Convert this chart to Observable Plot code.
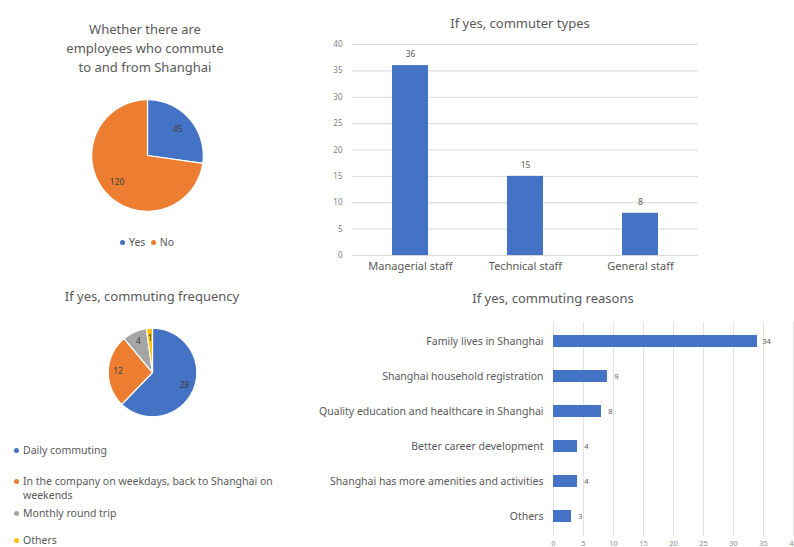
<!DOCTYPE html>
<html><head><meta charset="utf-8">
<script src="https://cdn.jsdelivr.net/npm/d3@7"></script>
<script src="https://cdn.jsdelivr.net/npm/@observablehq/plot@0.6"></script>
<style>
body{margin:0;background:#fff;font-family:"Noto Sans",sans-serif;}
#root{position:relative;width:794px;height:547px;overflow:hidden;color:#595959;background:#fff}
.abs{position:absolute}
.t{font-size:13px;color:#595959;text-align:center;line-height:19px;white-space:nowrap}
.lg{font-size:10.5px;color:#595959;white-space:nowrap;line-height:12px}
.dot{display:inline-block;width:5px;height:5px;border-radius:50%;margin-right:4px;vertical-align:middle;position:relative;top:-1px}
</style></head><body><div id="root"></div>
<script>
const presenceLabels = ["Yes", "No"];
const presenceValues = [45, 120];
const typeLabels = ["Managerial staff", "Technical staff", "General staff"];
const typeValues = [36, 15, 8];
const freqLabels = ["Daily commuting", "In the company on weekdays, back to Shanghai on weekends", "Monthly round trip", "Others"];
const freqValues = [28, 12, 4, 1];
const reasonLabels = ["Family lives in Shanghai", "Shanghai household registration", "Quality education and healthcare in Shanghai", "Better career development", "Shanghai has more amenities and activities", "Others"];
const reasonValues = [34, 9, 8, 4, 4, 3];
const pieColors = ["#4472C4", "#ED7D31", "#A5A5A5", "#FFC000"];
const barColor = "#4472C4";
const FONT = '"Noto Sans", sans-serif';

const root = document.getElementById("root");
function place(el, left, top) { el.classList.add("abs"); el.style.left = left + "px"; el.style.top = top + "px"; root.appendChild(el); return el; }
function div(html, cls, left, top, width) { const d = document.createElement("div"); d.className = cls; d.innerHTML = html; if (width) d.style.width = width + "px"; return place(d, left, top); }

function pie(labels, values, colors, size, labelR) {
  const arcs = d3.pie().sort(null).value(d => d)(values);
  const rows = [];
  const lab = [];
  arcs.forEach((a, i) => {
    rows.push({k: labels[i], x: 0, y: 0});
    const n = Math.max(2, Math.ceil((a.endAngle - a.startAngle) / 0.02));
    for (let j = 0; j <= n; j++) {
      const t = a.startAngle + (a.endAngle - a.startAngle) * j / n;
      rows.push({k: labels[i], x: Math.sin(t), y: Math.cos(t)});
    }
    const m = (a.startAngle + a.endAngle) / 2;
    lab.push({k: labels[i], v: values[i], x: labelR * Math.sin(m), y: labelR * Math.cos(m)});
  });
  const R = 1.04;
  return Plot.plot({
    width: size, height: size, margin: 0,
    style: {fontFamily: FONT, background: "transparent"},
    x: {domain: [-R, R], axis: null},
    y: {domain: [-R, R], axis: null},
    color: {domain: labels, range: colors},
    marks: [
      Plot.line(rows, {x: "x", y: "y", z: "k", fill: "k", stroke: "white", strokeWidth: 1.2, curve: "linear-closed"}),
      Plot.text(lab, {x: "x", y: "y", text: "v", fill: "#404040", fontSize: 8.5})
    ]
  });
}

// Panel A: pie
div("Whether there are<br>employees who commute<br>to and from Shanghai", "t", 45, 20, 200);
place(pie(presenceLabels, presenceValues, pieColors, 116, 0.72), 147 - 58, 155 - 58);
div(presenceLabels.map((l, i) => `<span class="dot" style="background:${pieColors[i]}"></span>${l}`).join("&nbsp;&nbsp;"), "lg", 120, 236);

// Panel B: vertical bars
div("If yes, commuter types", "t", 420, 14, 200);
const typeRows = typeLabels.map((k, i) => ({k, v: typeValues[i]}));
place(Plot.plot({
  width: 410, height: 250, marginLeft: 52, marginRight: 12, marginTop: 14, marginBottom: 25,
  style: {fontFamily: FONT, color: "#595959", background: "transparent"},
  x: {domain: typeLabels, paddingInner: 0.69, paddingOuter: 0.345, label: null, axis: null},
  y: {domain: [0, 40], label: null, axis: null},
  marks: [
    Plot.gridY(d3.range(0, 41, 5), {stroke: "#d9d9d9", strokeOpacity: 1}),
    Plot.axisY(d3.range(0, 41, 5), {tickSize: 0, tickPadding: 10, fontSize: 8, fill: "#7f7f7f", label: null}),
    Plot.axisX({tickSize: 0, tickPadding: 7, fontSize: 11, fill: "#595959", label: null}),
    Plot.barY(typeRows, {x: "k", y: "v", fill: barColor}),
    Plot.text(typeRows, {x: "k", y: "v", text: "v", dy: -11, fontSize: 8.5, fill: "#595959"})
  ]
}), 300, 30);

// Panel C: pie
div("If yes, commuting frequency", "t", 52, 287, 200);
place(pie(freqLabels, freqValues, pieColors, 92, 0.78), 152 - 46, 372 - 46);
const dotHtml = i => `<span class="dot" style="background:${pieColors[i]}"></span>`;
div(dotHtml(0) + freqLabels[0], "lg", 14, 444);
div(dotHtml(1) + "In the company on weekdays, back to Shanghai on", "lg", 14, 475);
div("weekends", "lg", 23, 489);
div(dotHtml(2) + freqLabels[2], "lg", 14, 507);
div(dotHtml(3) + freqLabels[3], "lg", 14, 534);

// Panel D: horizontal bars
div("If yes, commuting reasons", "t", 453, 289, 200);
const reasonRows = reasonLabels.map((k, i) => ({k, v: reasonValues[i]}));
place(Plot.plot({
  width: 504, height: 237, marginLeft: 263, marginRight: 1, marginTop: 12, marginBottom: 11,
  style: {fontFamily: FONT, color: "#595959", background: "transparent", overflow: "visible"},
  x: {domain: [0, 40], label: null, axis: null},
  y: {domain: reasonLabels, paddingInner: 0.65, paddingOuter: 0.325, label: null, axis: null},
  marks: [
    Plot.gridX(d3.range(0, 41, 5), {stroke: "#e3e3e3", strokeOpacity: 1}),
    Plot.axisX(d3.range(0, 41, 5), {tickSize: 0, tickPadding: 4, fontSize: 7.5, fill: "#8f8f8f", label: null}),
    Plot.axisY({tickSize: 0, tickPadding: 10, fontSize: 10.5, fill: "#595959", label: null}),
    Plot.barX(reasonRows, {y: "k", x: "v", fill: barColor}),
    Plot.text(reasonRows, {y: "k", x: "v", text: "v", dx: 9, fontSize: 7.5, fill: "#595959"})
  ]
}), 290, 310);
</script></body></html>
